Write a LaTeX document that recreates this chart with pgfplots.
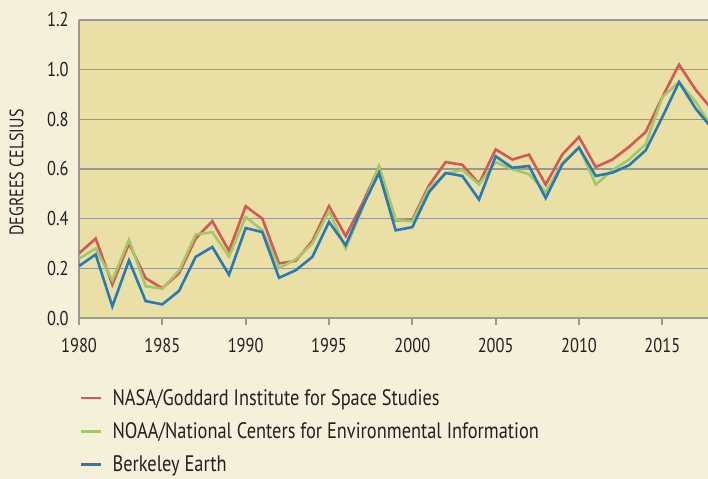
\documentclass[border=0pt]{standalone}
\usepackage{fontspec}
\setmainfont{PT Sans}[FakeStretch=0.82]
\usepackage{pgfplots}
\pgfplotsset{compat=1.18}
\definecolor{cream}{RGB}{245,240,218}
\definecolor{plotbg}{RGB}{234,224,166}
\definecolor{gridgray}{RGB}{152,152,148}
\definecolor{nasared}{RGB}{212,88,84}
\definecolor{noaagreen}{RGB}{163,200,104}
\definecolor{berkblue}{RGB}{40,122,182}
\definecolor{txt}{RGB}{35,31,32}
\begin{document}
\begin{tikzpicture}
\useasboundingbox (0,0) rectangle (708bp,479bp);
\fill[cream] (0,0) rectangle (708bp,479bp);
\begin{axis}[
  at={(79bp,161bp)}, anchor=south west,
  scale only axis, width=629bp, height=298bp,
  xmin=1980, xmax=2017.74, ymin=0, ymax=1.2,
  axis background/.style={fill=plotbg},
  axis x line*=bottom, axis y line*=left,
  axis line style={gridgray, line width=2bp, -},
  ymajorgrids, major grid style={gridgray, line width=1.3bp},
  xtick={1980,1985,...,2015},
  ytick={0,0.2,...,1.2},
  tick align=outside, major tick length=7bp,
  tick style={gridgray, line width=2bp},
  ytick style={draw=none},
  /pgf/number format/assume math mode=true,
  x tick label style={/pgf/number format/1000 sep={}, font=\fontsize{20bp}{23bp}\selectfont, text=txt, yshift=-10bp},
  y tick label style={/pgf/number format/.cd, fixed, fixed zerofill, precision=1, /tikz/.cd, font=\fontsize{20bp}{23bp}\selectfont, text=txt},
  ylabel={DEGREES CELSIUS},
  ylabel style={at={(axis description cs:-0.0994,0.488)}, anchor=center, font=\fontsize{19.5bp}{22bp}\selectfont, text=txt},
  clip=true,
  legend style={at={(axis description cs:0.0016,-0.239)}, anchor=north west, draw=none, fill=none,
    font=\fontsize{22.4bp}{25bp}\selectfont, text=txt, row sep=16bp, inner sep=0pt, outer sep=0pt,
    nodes={inner sep=0pt}},
  legend cell align=left,
  legend image code/.code={\draw[#1, line width=2.6bp] (0bp,0bp) -- (20bp,0bp); \path (30bp,0bp);},
]
\addplot[nasared, line width=2.6bp] coordinates {
(1980,0.26)(1981,0.32)(1982,0.135)(1983,0.30)(1984,0.16)(1985,0.12)(1986,0.18)(1987,0.32)(1988,0.39)(1989,0.27)
(1990,0.45)(1991,0.40)(1992,0.22)(1993,0.23)(1994,0.31)(1995,0.45)(1996,0.33)(1997,0.46)(1998,0.608)(1999,0.393)
(2000,0.396)(2001,0.534)(2002,0.628)(2003,0.617)(2004,0.541)(2005,0.679)(2006,0.638)(2007,0.658)(2008,0.537)(2009,0.659)
(2010,0.729)(2011,0.608)(2012,0.638)(2013,0.689)(2014,0.749)(2015,0.89)(2016,1.02)(2017,0.919)(2018,0.838)};
\addlegendentry{NASA/Goddard Institute for Space Studies}
\addplot[noaagreen, line width=2.6bp] coordinates {
(1980,0.239)(1981,0.28)(1982,0.152)(1983,0.315)(1984,0.128)(1985,0.118)(1986,0.19)(1987,0.336)(1988,0.346)(1989,0.248)
(1990,0.407)(1991,0.353)(1992,0.201)(1993,0.236)(1994,0.30)(1995,0.431)(1996,0.28)(1997,0.44)(1998,0.612)(1999,0.397)
(2000,0.389)(2001,0.523)(2002,0.581)(2003,0.597)(2004,0.538)(2005,0.628)(2006,0.599)(2007,0.579)(2008,0.507)(2009,0.624)
(2010,0.689)(2011,0.537)(2012,0.595)(2013,0.638)(2014,0.70)(2015,0.89)(2016,0.95)(2017,0.87)(2018,0.766)};
\addlegendentry{NOAA/National Centers for Environmental Information}
\addplot[berkblue, line width=2.6bp] coordinates {
(1980,0.209)(1981,0.256)(1982,0.047)(1983,0.232)(1984,0.068)(1985,0.055)(1986,0.109)(1987,0.246)(1988,0.286)(1989,0.174)
(1990,0.362)(1991,0.346)(1992,0.162)(1993,0.192)(1994,0.246)(1995,0.387)(1996,0.293)(1997,0.447)(1998,0.584)(1999,0.353)
(2000,0.366)(2001,0.507)(2002,0.584)(2003,0.572)(2004,0.477)(2005,0.651)(2006,0.605)(2007,0.612)(2008,0.483)(2009,0.619)
(2010,0.686)(2011,0.572)(2012,0.585)(2013,0.615)(2014,0.675)(2015,0.809)(2016,0.95)(2017,0.843)(2018,0.762)};
\addlegendentry{Berkeley Earth}
\end{axis}
\end{tikzpicture}
\end{document}
